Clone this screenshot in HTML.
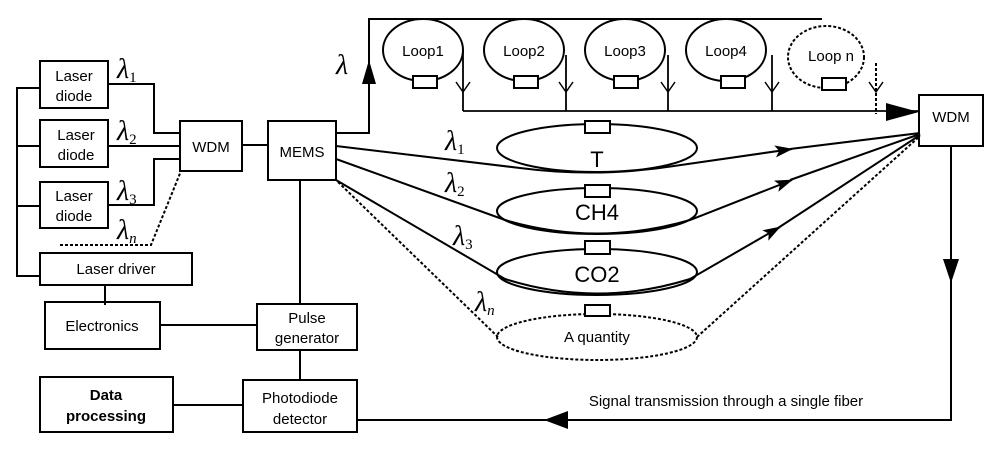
<!DOCTYPE html>
<html><head><meta charset="utf-8"><style>
body{margin:0;background:#fff}
svg text{font-family:"Liberation Sans",sans-serif;fill:#000}
.l{font-family:"Liberation Serif",serif;font-style:italic}
</style></head><body>
<svg width="1000" height="453" viewBox="0 0 1000 453" xmlns="http://www.w3.org/2000/svg">
<defs>
<marker id="fa" viewBox="0 0 18 12" refX="17" refY="6" markerWidth="18" markerHeight="12" markerUnits="userSpaceOnUse" orient="auto"><path d="M0,0 L18,6 L0,12 L4,6 Z" fill="#000"/></marker>
</defs>
<g stroke="#000" stroke-width="2" fill="none">
<rect x="40" y="61" width="68" height="47" fill="#fff"/>
<rect x="40" y="120" width="68" height="47" fill="#fff"/>
<rect x="40" y="182" width="68" height="46" fill="#fff"/>
<rect x="40" y="253" width="152" height="32" fill="#fff"/>
<path d="M40,88 H17 V276 H40 M17,146 H40 M17,206 H40"/>
<rect x="180" y="121" width="62" height="50"/>
<rect x="268" y="121" width="68" height="59"/>
<path d="M108,84 H154 V133 H180 M108,146 H180 M108,205 H154 V159 H180 M242,145 H268"/>
<path d="M60,245 H151 L181,171" stroke-dasharray="3,2"/>
<path d="M336,133 H369 V19 H822"/>
<path d="M362,84 L369,60 L376,84 Z" fill="#000" stroke="none"/>
<ellipse cx="423" cy="50" rx="40" ry="31"/>
<ellipse cx="524" cy="50" rx="40" ry="31"/>
<ellipse cx="625" cy="50" rx="40" ry="31"/>
<ellipse cx="726" cy="50" rx="40" ry="31"/>
<ellipse cx="826" cy="57" rx="38" ry="31" stroke-dasharray="3,2"/>
<rect x="413" y="76" width="24" height="12" fill="#fff"/>
<rect x="514" y="76" width="24" height="12" fill="#fff"/>
<rect x="614" y="76" width="24" height="12" fill="#fff"/>
<rect x="721" y="76" width="24" height="12" fill="#fff"/>
<rect x="822" y="78" width="24" height="12" fill="#fff"/>
<path d="M463,50 V111 M566,55 V111 M668,55 V111 M772,55 V111 M463,111 H919" stroke-width="1.8"/>
<path d="M456,82 L463,92 L470,82 M559,82 L566,92 L573,82 M661,82 L668,92 L675,82 M765,82 L772,92 L779,82 M869,82 L876,92 L883,82" stroke-width="1.5"/>
<path d="M876,63 V114" stroke-dasharray="3,2"/>
<path d="M886,103 L919,112 L886,121 Z" fill="#000" stroke="none"/>
<rect x="919" y="95" width="64" height="51"/>
<ellipse cx="597" cy="148" rx="100" ry="24"/>
<ellipse cx="597" cy="211" rx="100" ry="23"/>
<ellipse cx="597" cy="272" rx="100" ry="23"/>
<ellipse cx="597" cy="337" rx="100" ry="23" stroke-dasharray="3,2"/>
<rect x="585" y="121" width="25" height="12" fill="#fff"/>
<rect x="585" y="185" width="25" height="12" fill="#fff"/>
<rect x="585" y="241" width="25" height="13" fill="#fff"/>
<rect x="585" y="305" width="25" height="11" fill="#fff"/>
<path d="M336,146 L520,168 Q597,178 674,166 L792,149" marker-end="url(#fa)"/>
<path d="M790,149 L920,133"/>
<path d="M336,159 L505,220 Q597,247 690,220 L792,180" marker-end="url(#fa)"/>
<path d="M790,180 L920,134"/>
<path d="M336,180 L505,279 Q597,308 690,279 L780,227" marker-end="url(#fa)"/>
<path d="M778,228 L920,135"/>
<path d="M338,182 L498,337 M697,337 L920,136" stroke-dasharray="3,2"/>
<path d="M951,146 V420 H357"/>
<path d="M943,259 L951,283 L959,259 Z" fill="#000" stroke="none"/>
<path d="M568,411 L544,420 L568,429 Z" fill="#000" stroke="none"/>
<path d="M300,180 V305 M105,285 V305 M160,325 H257 M300,350 V380 M173,405 H243"/>
<rect x="45" y="302" width="115" height="47"/>
<rect x="257" y="304" width="100" height="46"/>
<rect x="40" y="377" width="133" height="55"/>
<rect x="243" y="380" width="114" height="52"/>
</g>
<g font-size="15" text-anchor="middle">
<text x="74" y="81">Laser</text><text x="74" y="101">diode</text>
<text x="76" y="140">Laser</text><text x="76" y="160">diode</text>
<text x="74" y="201">Laser</text><text x="74" y="221">diode</text>
<text x="116" y="274">Laser driver</text>
<text x="211" y="152">WDM</text>
<text x="302" y="157">MEMS</text>
<text x="951" y="122">WDM</text>
<text x="102" y="331">Electronics</text>
<text x="307" y="323">Pulse</text><text x="307" y="343">generator</text>
<text x="300" y="403">Photodiode</text><text x="300" y="424">detector</text>
<text x="106" y="400" font-weight="bold">Data</text><text x="106" y="421" font-weight="bold">processing</text>
<text x="423" y="56">Loop1</text><text x="524" y="56">Loop2</text><text x="625" y="56">Loop3</text><text x="726" y="56">Loop4</text><text x="831" y="61">Loop n</text>
<text x="597" y="167" font-size="22">T</text>
<text x="597" y="220" font-size="22">CH4</text>
<text x="597" y="282" font-size="22">CO2</text>
<text x="597" y="342" font-size="15">A quantity</text>
<text x="726" y="406" font-size="15">Signal transmission through a single fiber</text>
</g>
<g font-size="28">
<text x="117" y="78" class="l">λ<tspan font-size="15" font-style="normal" dy="4">1</tspan></text>
<text x="117" y="140" class="l">λ<tspan font-size="15" font-style="normal" dy="4">2</tspan></text>
<text x="117" y="200" class="l">λ<tspan font-size="15" font-style="normal" dy="4">3</tspan></text>
<text x="117" y="239" class="l">λ<tspan font-size="15" dy="4">n</tspan></text>
<text x="336" y="74" class="l">λ</text>
<text x="445" y="150" class="l">λ<tspan font-size="15" font-style="normal" dy="4">1</tspan></text>
<text x="445" y="192" class="l">λ<tspan font-size="15" font-style="normal" dy="4">2</tspan></text>
<text x="453" y="245" class="l">λ<tspan font-size="15" font-style="normal" dy="4">3</tspan></text>
<text x="475" y="311" class="l">λ<tspan font-size="15" dy="4">n</tspan></text>
</g>
</svg>
</body></html>
